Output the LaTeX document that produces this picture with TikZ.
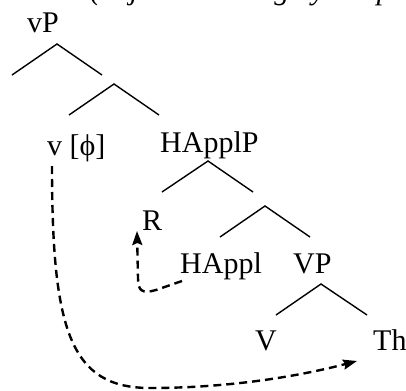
\documentclass[tikz,border=0pt]{standalone}
\usepackage{fontspec}
\setmainfont{Liberation Serif}
\usetikzlibrary{arrows.meta}
\begin{document}
\begin{tikzpicture}[x=1pt,y=-1pt,
  lbl/.style={anchor=base west,inner sep=0pt,font=\fontsize{30}{36}\selectfont},
  branch/.style={line width=1.4pt},
  movearrow/.style={line width=2.4pt,dash pattern=on 8pt off 5pt,-{Stealth[length=14pt,width=10pt,inset=2pt]}}]
\useasboundingbox (0,0) rectangle (406,390);
\fill[white] (0,0) rectangle (406,390);
\begin{scope}
\clip (0,0) rectangle (406,390);
% cropped caption line at top (only its lowest part shows)
\node[lbl,font=\fontsize{30}{36}\selectfont\itshape] (cap) at (90,0) {(object licensing by the probe)};
\end{scope}
% labels
\node[lbl] (vP) at (27,33) {vP};
\node[lbl] (v) at (47,155) {v [\char"03D5]};
\node[lbl] (HApplP) at (160,152) {HApplP};
\node[lbl] (R) at (142,230) {R};
\node[lbl] (HAppl) at (180,273) {HAppl};
\node[lbl] (VP) at (293,273) {VP};
\node[lbl] (V) at (255,350) {V};
\node[lbl] (Th) at (373,350) {Th};
% tree branches
\coordinate (a1) at (57,44); \coordinate (l1) at (12,75); \coordinate (r1) at (102,75);
\coordinate (a2) at (114,84); \coordinate (l2) at (69,115); \coordinate (r2) at (159,115);
\coordinate (a3) at (208,161); \coordinate (l3) at (162,192); \coordinate (r3) at (253,192);
\coordinate (a4) at (265,206); \coordinate (l4) at (220,237); \coordinate (r4) at (310,237);
\coordinate (a5) at (321,284); \coordinate (l5) at (276,315); \coordinate (r5) at (367,315);
\draw[branch] (l1) -- (a1) -- (r1);
\draw[branch] (l2) -- (a2) -- (r2);
\draw[branch] (l3) -- (a3) -- (r3);
\draw[branch] (l4) -- (a4) -- (r4);
\draw[branch] (l5) -- (a5) -- (r5);
% movement arrows
\coordinate (vstart) at (52,166);
\coordinate (thend) at (357,361);
\coordinate (hstart) at (182,281);
\coordinate (rend) at (137,231);
\draw[movearrow] (vstart) .. controls (52,330) and (70,388) .. (150,388)
  .. controls (230,388) and (300,376) .. (thend);
\draw[movearrow] (hstart) -- (156,290) .. controls (142,294) and (138,291) .. (138,278) -- (rend);
\end{tikzpicture}
\end{document}
